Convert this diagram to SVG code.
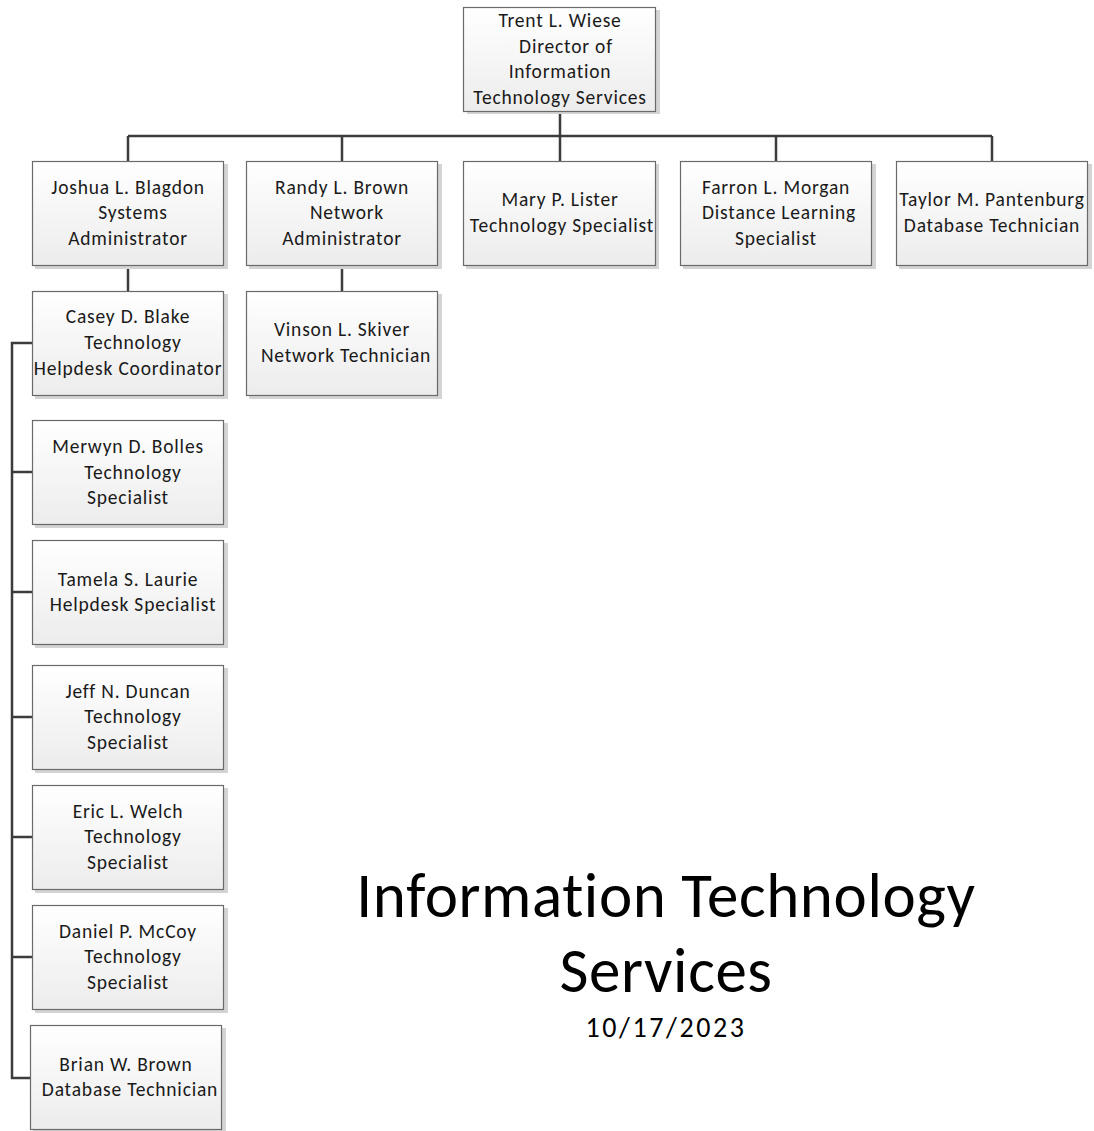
<svg xmlns="http://www.w3.org/2000/svg" width="1094" height="1131" viewBox="0 0 1094 1131">
<defs>
<linearGradient id="g" x1="0" y1="0" x2="0" y2="1">
<stop offset="0" stop-color="#ffffff"/>
<stop offset="1" stop-color="#ececec"/>
</linearGradient>
</defs>
<style>
.box{fill:url(#g);stroke:#6a6a6a;stroke-width:1.2}
.sh{fill:#d4d4d4}
.t{font-family:Carlito,Calibri,Lato,"Liberation Sans",sans-serif;font-size:19.5px;letter-spacing:0.8px;fill:#1a1a1a;text-anchor:middle;font-variant-ligatures:none}
.c{fill:none;stroke:#3c3c3c;stroke-width:2.5}
.title{font-family:Carlito,Calibri,Lato,"Liberation Sans",sans-serif;fill:#000;text-anchor:middle;font-variant-ligatures:none}
</style>
<rect width="1094" height="1131" fill="#fff"/>
<g id="connectors">
<path class="c" d="M560 112V136M128 136H992M128 136V161M342 136V161M560 136V161M776 136V161M992 136V161"/>
<path class="c" d="M128 266V291M342 266V291"/>
<path class="c" d="M32 343H12V1078H30M12 472H32M12 592H32M12 717H32M12 837H32M12 957H32"/>
</g>
<g id="n-trent"><rect class="sh" x="467" y="10" width="193" height="104"/><rect class="box" x="463.5" y="7.5" width="192" height="104"/>
<text class="t"><tspan x="560" y="27">Trent L. Wiese</tspan><tspan x="566" y="53">Director of</tspan><tspan x="560" y="78">Information</tspan><tspan x="560" y="104">Technology Services</tspan></text></g>
<g id="n-joshua"><rect class="sh" x="35" y="164" width="193" height="105"/><rect class="box" x="32.5" y="161.5" width="191" height="104"/>
<text class="t"><tspan x="128" y="194">Joshua L. Blagdon</tspan><tspan x="133" y="219">Systems</tspan><tspan x="128" y="245">Administrator</tspan></text></g>
<g id="n-randy"><rect class="sh" x="249" y="164" width="193" height="105"/><rect class="box" x="246.5" y="161.5" width="191" height="104"/>
<text class="t"><tspan x="342" y="194">Randy L. Brown</tspan><tspan x="347" y="219">Network</tspan><tspan x="342" y="245">Administrator</tspan></text></g>
<g id="n-mary"><rect class="sh" x="466" y="164" width="193" height="105"/><rect class="box" x="463.5" y="161.5" width="192" height="104"/>
<text class="t"><tspan x="560" y="206">Mary P. Lister</tspan><tspan x="562" y="232">Technology Specialist</tspan></text></g>
<g id="n-farron"><rect class="sh" x="683" y="164" width="193" height="105"/><rect class="box" x="680.5" y="161.5" width="191" height="104"/>
<text class="t"><tspan x="776" y="194">Farron L. Morgan</tspan><tspan x="779" y="219">Distance Learning</tspan><tspan x="776" y="245">Specialist</tspan></text></g>
<g id="n-taylor"><rect class="sh" x="899" y="164" width="193" height="105"/><rect class="box" x="896.5" y="161.5" width="191" height="104"/>
<text class="t"><tspan x="992" y="206">Taylor M. Pantenburg</tspan><tspan x="992" y="232">Database Technician</tspan></text></g>
<g id="n-casey"><rect class="sh" x="35" y="294" width="193" height="105"/><rect class="box" x="32.5" y="291.5" width="191" height="104"/>
<text class="t"><tspan x="128" y="323">Casey D. Blake</tspan><tspan x="133" y="349">Technology</tspan><tspan x="128" y="375">Helpdesk Coordinator</tspan></text></g>
<g id="n-vinson"><rect class="sh" x="249" y="294" width="193" height="105"/><rect class="box" x="246.5" y="291.5" width="191" height="104"/>
<text class="t"><tspan x="342" y="336">Vinson L. Skiver</tspan><tspan x="346" y="362">Network Technician</tspan></text></g>
<g id="n-merwyn"><rect class="sh" x="35" y="423" width="193" height="105"/><rect class="box" x="32.5" y="420.5" width="191" height="104"/>
<text class="t"><tspan x="128" y="453">Merwyn D. Bolles</tspan><tspan x="133" y="479">Technology</tspan><tspan x="128" y="504">Specialist</tspan></text></g>
<g id="n-tamela"><rect class="sh" x="35" y="543" width="193" height="105"/><rect class="box" x="32.5" y="540.5" width="191" height="104"/>
<text class="t"><tspan x="128" y="586">Tamela S. Laurie</tspan><tspan x="133" y="611">Helpdesk Specialist</tspan></text></g>
<g id="n-jeff"><rect class="sh" x="35" y="668" width="193" height="105"/><rect class="box" x="32.5" y="665.5" width="191" height="104"/>
<text class="t"><tspan x="128" y="698">Jeff N. Duncan</tspan><tspan x="133" y="723">Technology</tspan><tspan x="128" y="749">Specialist</tspan></text></g>
<g id="n-eric"><rect class="sh" x="35" y="788" width="193" height="105"/><rect class="box" x="32.5" y="785.5" width="191" height="104"/>
<text class="t"><tspan x="128" y="818">Eric L. Welch</tspan><tspan x="133" y="843">Technology</tspan><tspan x="128" y="869">Specialist</tspan></text></g>
<g id="n-daniel"><rect class="sh" x="35" y="908" width="193" height="105"/><rect class="box" x="32.5" y="905.5" width="191" height="104"/>
<text class="t"><tspan x="128" y="938">Daniel P.  McCoy</tspan><tspan x="133" y="963">Technology</tspan><tspan x="128" y="989">Specialist</tspan></text></g>
<g id="n-brian"><rect class="sh" x="33" y="1028" width="193" height="105"/><rect class="box" x="30.5" y="1025.5" width="191" height="104"/>
<text class="t"><tspan x="126" y="1071">Brian W. Brown</tspan><tspan x="130" y="1096">Database Technician</tspan></text></g>
<g id="title">
<text class="title" x="666" y="917" font-size="63" letter-spacing="0.6">Information Technology</text>
<text class="title" x="666" y="992" font-size="63" letter-spacing="0.6">Services</text>
<text class="title" x="666" y="1037" font-size="28" letter-spacing="2.6">10/17/2023</text>
</g>
</svg>
